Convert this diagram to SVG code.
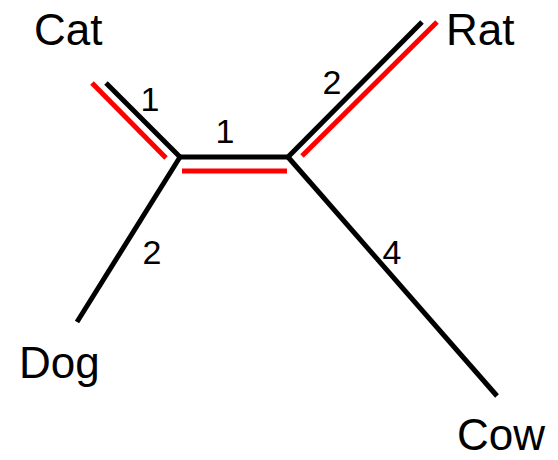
<svg xmlns="http://www.w3.org/2000/svg" width="558" height="460" viewBox="0 0 558 460">
<style>
.edge{stroke:#000;stroke-width:5;fill:none}
.hl{stroke:#f00;stroke-width:5;fill:none}
.lbl{font-family:"Liberation Sans",Arial,sans-serif;font-size:44px;fill:#000}
.elbl{font-family:"Liberation Sans",Arial,sans-serif;font-size:34px;fill:#000;text-anchor:middle}
</style>
<rect width="558" height="460" fill="#fff"/>
<g id="connectors">
<line class="hl" x1="92" y1="83" x2="166" y2="158"/>
<line class="hl" x1="182" y1="171" x2="287" y2="171"/>
<line class="hl" x1="302" y1="156" x2="437" y2="22"/>
<line class="edge" x1="106" y1="83" x2="180" y2="157"/>
<line class="edge" x1="178" y1="157" x2="290" y2="157"/>
<line class="edge" x1="288" y1="157" x2="422" y2="22"/>
<line class="edge" x1="180" y1="157" x2="77" y2="322"/>
<line class="edge" x1="288" y1="157" x2="497" y2="396"/>
<text class="elbl" x="150" y="111">1</text>
<text class="elbl" x="225" y="143">1</text>
<text class="elbl" x="332" y="94">2</text>
<text class="elbl" x="152" y="264">2</text>
<text class="elbl" x="392" y="264">4</text>
</g>
<g id="node-cat"><text class="lbl" x="34" y="45">Cat</text></g>
<g id="node-rat"><text class="lbl" x="446" y="45">Rat</text></g>
<g id="node-dog"><text class="lbl" x="19" y="378">Dog</text></g>
<g id="node-cow"><text class="lbl" x="457" y="450">Cow</text></g>
</svg>
